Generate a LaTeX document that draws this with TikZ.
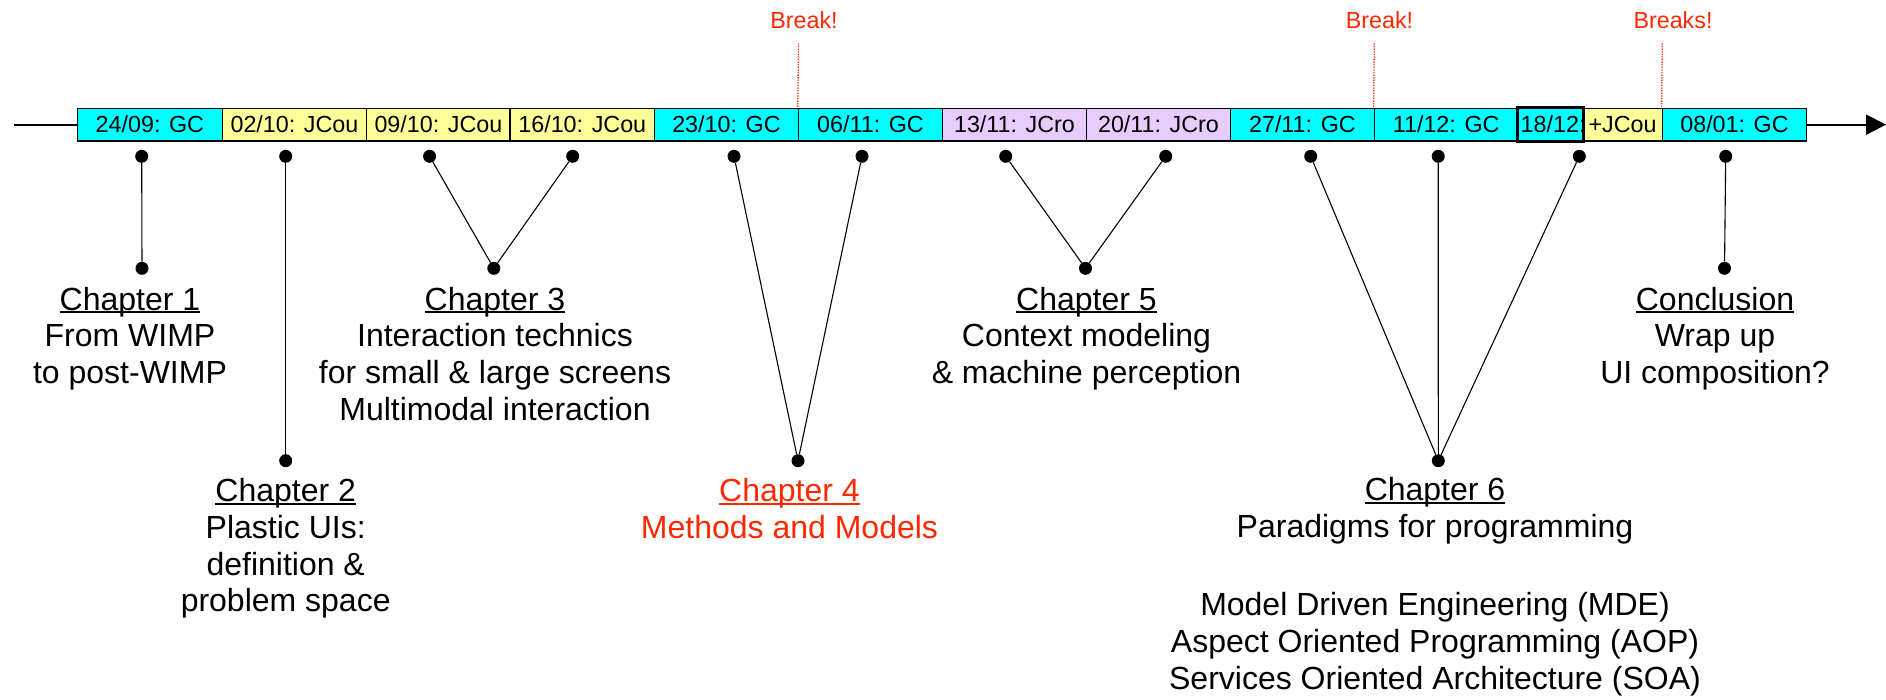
\documentclass[tikz,border=0pt]{standalone}
\usepackage{fontspec}
\setmainfont{Liberation Sans}
\usetikzlibrary{arrows.meta}
\definecolor{gcblue}{RGB}{0,255,255}
\definecolor{jcouyellow}{RGB}{255,255,153}
\definecolor{jcropurple}{RGB}{230,204,255}
\definecolor{breakred}{RGB}{255,40,0}
\newcommand\chaptitle[1]{\setbox0\hbox{#1}\rlap{\rule[-0.1em]{\wd0}{0.06em}}\box0}
\begin{document}
\begin{tikzpicture}[x=1pt,y=-1pt,
  day/.style={draw,line width=1.5pt,inner sep=0pt,minimum height=32.7pt,font=\fontsize{23.3}{28}\selectfont},
  dot/.style={circle,fill=black,inner sep=0pt,minimum size=13pt},
  link/.style={line width=1.1pt},
  brk/.style={breakred,line width=1.3pt,dash pattern=on 1.3pt off 1.3pt},
  brklabel/.style={anchor=base,text=breakred,font=\fontsize{23.3}{28}\selectfont},
  chap/.style={anchor=base,align=center,font=\fontsize{32}{36.7}\selectfont}]
\useasboundingbox (0,0) rectangle (1886,699);
% the sessions
\node[day,fill=gcblue,minimum width=144.8pt] (d1) at (149.9,124.65) {24/09: GC};
\node[day,fill=jcouyellow,minimum width=144.3pt] (d2) at (294.45,124.65) {02/10: JCou};
\node[day,fill=jcouyellow,minimum width=143.6pt] (d3) at (438.4,124.65) {09/10: JCou};
\node[day,fill=jcouyellow,minimum width=144.2pt] (d4) at (582.3,124.65) {16/10: JCou};
\node[day,fill=gcblue,minimum width=144.1pt] (d5) at (726.45,124.65) {23/10: GC};
\node[day,fill=gcblue,minimum width=144pt] (d6) at (870.5,124.65) {06/11: GC};
\node[day,fill=jcropurple,minimum width=144pt] (d7) at (1014.5,124.65) {13/11: JCro};
\node[day,fill=jcropurple,minimum width=144pt] (d8) at (1158.5,124.65) {20/11: JCro};
\node[day,fill=gcblue,minimum width=143.8pt] (d9) at (1302.4,124.65) {27/11: GC};
\node[day,fill=gcblue,minimum width=143.7pt] (d10) at (1446.15,124.65) {11/12: GC};
\node[day,fill=gcblue,minimum width=64.7pt] (d11) at (1550.35,124.65) {\makebox[59.3pt][l]{18/12:}};
\node[day,fill=jcouyellow,minimum width=79.6pt] (d12) at (1622.5,124.65) {+JCou};
\node[day,fill=gcblue,minimum width=144.4pt] (d13) at (1734.5,124.65) {08/01: GC};
\draw[line width=2.5pt] (d11.north west) rectangle (d11.south east);
% time axis
\coordinate (start) at (14,124.65);
\coordinate (end) at (1886,124.65);
\draw[line width=2pt] (start) -- (d1.west);
\draw[line width=2pt,-{Triangle[length=20pt,width=20pt]}] (d13.east) -- (end);
% breaks
\coordinate (k1) at (798.5,43.3);
\coordinate (k2) at (1374.3,43.3);
\coordinate (k3) at (1662.3,43.3);
\draw[brk] (k1) -- (d6.north west);
\draw[brk] (k2) -- (d10.north west);
\draw[brk] (k3) -- (d13.north west);
\node[brklabel] (l1) at (804,28.3) {Break!};
\node[brklabel] (l2) at (1379.5,28.3) {Break!};
\node[brklabel] (l3) at (1673,28.3) {Breaks!};
% dots under the sessions
\node[dot] (t1) at (141.7,156.3) {};
\node[dot] (t2) at (285.7,156.3) {};
\node[dot] (t3) at (429.6,156.3) {};
\node[dot] (t4) at (572.7,156.3) {};
\node[dot] (t5) at (734,156.3) {};
\node[dot] (t6) at (862,156.3) {};
\node[dot] (t7) at (1005.7,156.3) {};
\node[dot] (t8) at (1165.7,156.3) {};
\node[dot] (t9) at (1310.7,156.3) {};
\node[dot] (t10) at (1438.2,156.3) {};
\node[dot] (t11) at (1579.3,156.3) {};
\node[dot] (t12) at (1725.7,156.3) {};
% dots over the chapters
\node[dot] (b1) at (142,268.3) {};
\node[dot] (b2) at (285.7,460.7) {};
\node[dot] (b3) at (493.8,268.3) {};
\node[dot] (b4) at (798,460.7) {};
\node[dot] (b5) at (1085.5,268.3) {};
\node[dot] (b6) at (1438.3,460.7) {};
\node[dot] (b7) at (1724.5,268.3) {};
\path[draw,link] (t1)--(b1);
\path[draw,link] (t2)--(b2);
\path[draw,link] (t3)--(b3);
\path[draw,link] (t4)--(b3);
\path[draw,link] (t5)--(b4);
\path[draw,link] (t6)--(b4);
\path[draw,link] (t7)--(b5);
\path[draw,link] (t8)--(b5);
\path[draw,link] (t9)--(b6);
\path[draw,link] (t10)--(b6);
\path[draw,link] (t11)--(b6);
\path[draw,link] (t12)--(b7);
% chapters (anchored on the baseline of the last line)
\node[chap] (c1) at (130,383.4) {\chaptitle{Chapter 1}\\From WIMP\\to post-WIMP};
\node[chap] (c2) at (285.7,611.8) {\chaptitle{Chapter 2}\\Plastic UIs:\\definition \&\\problem space};
\node[chap] (c3) at (495,420.1) {\chaptitle{Chapter 3}\\Interaction technics\\for small \& large screens\\Multimodal interaction};
\node[chap,text=breakred] (c4) at (789.5,538.4) {\chaptitle{Chapter 4}\\Methods and Models};
\node[chap] (c5) at (1086.5,383.4) {\chaptitle{Chapter 5}\\Context modeling\\\& machine perception};
\node[chap] (c6) at (1435,689.3) {\chaptitle{Chapter 6}\\Paradigms for programming\\[42pt]Model Driven Engineering (MDE)\\Aspect Oriented Programming (AOP)\\Services Oriented Architecture (SOA)};
\node[chap] (c7) at (1715,383.4) {\chaptitle{Conclusion}\\Wrap up\\UI composition?};
\end{tikzpicture}
\end{document}
